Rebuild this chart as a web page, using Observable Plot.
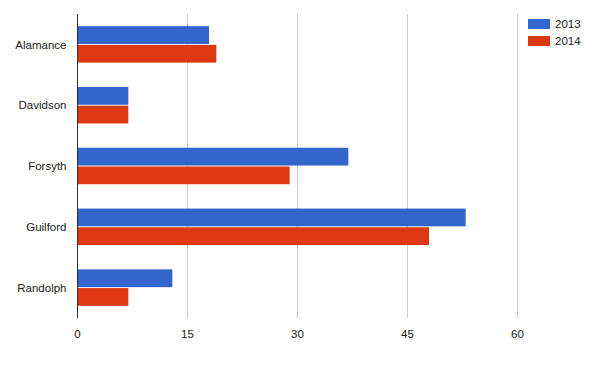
<!DOCTYPE html>
<html>
<head>
<meta charset="utf-8">
<script src="https://cdn.jsdelivr.net/npm/d3@7"></script>
<script src="https://cdn.jsdelivr.net/npm/@observablehq/plot@0.6"></script>
<style>
  html, body { margin: 0; padding: 0; background: #fff; }
  #wrap { position: relative; width: 600px; height: 370px; font-family: Arial, "Liberation Sans", Helvetica, sans-serif; }
  #legend { position: absolute; left: 528px; top: 15px; font-size: 11.5px; color: #222; }
  .item { display: flex; align-items: center; height: 17px; }
  .sw { width: 22px; height: 10px; margin-right: 5px; }
</style>
</head>
<body>
<div id="wrap"></div>
<script>
const counties = ["Alamance", "Davidson", "Forsyth", "Guilford", "Randolph"];
const years = ["2013", "2014"];
const values2013 = [18, 7, 37, 53, 13];
const values2014 = [19, 7, 29, 48, 7];
const colors = ["#3366cc", "#dc3912"];
const xTicks = [0, 15, 30, 45, 60];

const d2013 = counties.map((c, i) => ({county: c, year: years[0], value: values2013[i]}));
const d2014 = counties.map((c, i) => ({county: c, year: years[1], value: values2014[i]}));

const chart = Plot.plot({
  width: 600,
  height: 370,
  marginLeft: 77,
  marginRight: 83,
  marginTop: 14,
  marginBottom: 52,
  style: {fontFamily: "Arial, 'Liberation Sans', Helvetica, sans-serif", fontSize: "11.5px", color: "#222", background: "#fff"},
  x: {domain: [0, 60], ticks: xTicks, tickSize: 0, tickPadding: 11, label: null},
  y: {domain: counties, paddingInner: 0.4, paddingOuter: 0.2, round: false, tickSize: 0, tickPadding: 11, label: null},
  color: {domain: years, range: colors},
  marks: [
    Plot.ruleX(xTicks.filter(d => d > 0), {stroke: "#cccccc", strokeWidth: 1, strokeOpacity: 1}),
    Plot.barX(d2013, {x: "value", y: "county", fill: "year", insetBottom: 18.7}),
    Plot.barX(d2014, {x: "value", y: "county", fill: "year", insetTop: 18.7}),
    Plot.ruleX([0], {stroke: "#333", strokeWidth: 1})
  ]
});
document.getElementById("wrap").appendChild(chart);

const legend = document.createElement("div");
legend.id = "legend";
years.forEach((y, i) => {
  const it = document.createElement("div");
  it.className = "item";
  const sw = document.createElement("div");
  sw.className = "sw";
  sw.style.background = colors[i];
  const t = document.createElement("span");
  t.textContent = y;
  it.appendChild(sw);
  it.appendChild(t);
  legend.appendChild(it);
});
document.getElementById("wrap").appendChild(legend);
</script>
</body>
</html>
